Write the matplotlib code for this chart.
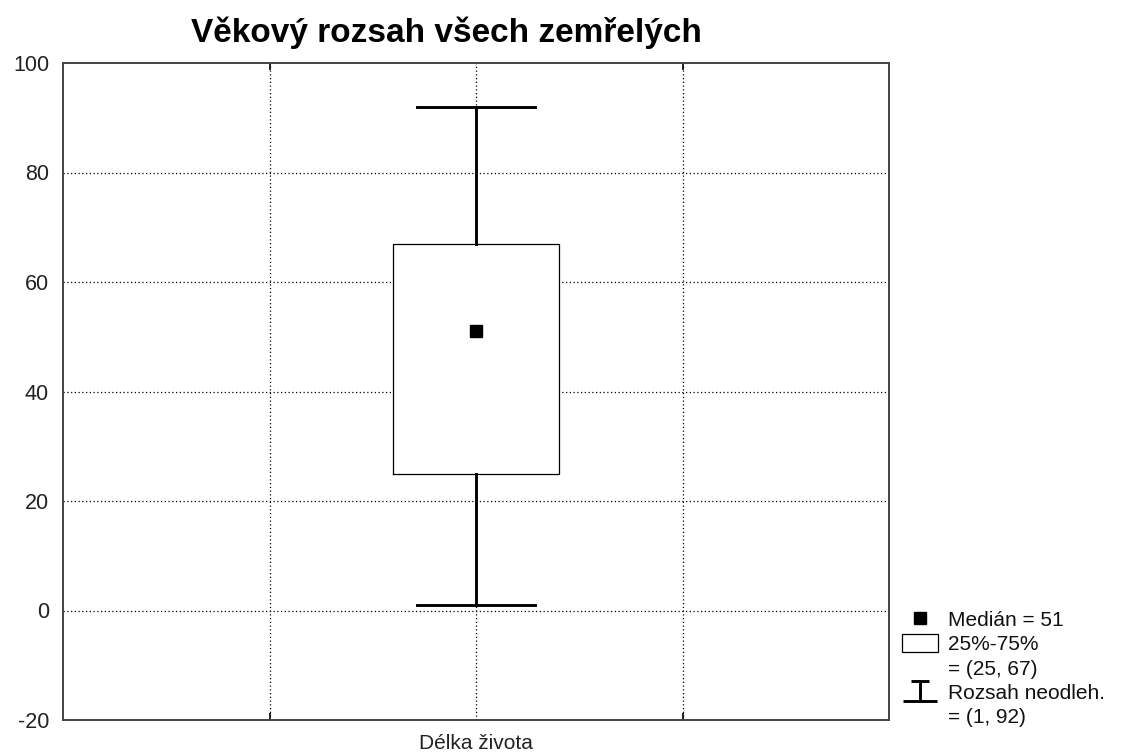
import matplotlib
matplotlib.use("Agg")
import matplotlib.pyplot as plt
from matplotlib.lines import Line2D
from matplotlib.patches import Rectangle
from matplotlib.path import Path

plt.rcParams["font.family"] = ["Liberation Sans", "DejaVu Sans"]
plt.rcParams["axes.unicode_minus"] = False

title = "Věkový rozsah všech zemřelých"
category = "Délka života"
median = 51
q1, q3 = 25, 67
whisker_lo, whisker_hi = 1, 92
y_ticks = [-20, 0, 20, 40, 60, 80, 100]
grid_x = [-1, 0, 1]

fig = plt.figure(figsize=(11.25, 7.53), dpi=100)
ax = fig.add_axes([63 / 1125, 1 - 720 / 753, 826 / 1125, 657 / 753])

stats = [{
    "med": median, "q1": q1, "q3": q3,
    "whislo": whisker_lo, "whishi": whisker_hi,
    "fliers": [], "label": category,
}]
ax.bxp(
    stats, positions=[0], widths=0.8, showfliers=False,
    boxprops=dict(color="black", linewidth=0.9),
    whiskerprops=dict(color="black", linewidth=2.1),
    capprops=dict(color="black", linewidth=2.1),
    capwidths=0.57,
    medianprops=dict(visible=False),
    zorder=3,
)
# white box face over the centre grid line
ax.add_patch(Rectangle((-0.4, q1), 0.8, q3 - q1, facecolor="white",
                       edgecolor="none", zorder=2))
ax.plot([0], [median], marker="s", color="black", markersize=8.5, zorder=4)

ax.set_xlim(-2, 2)
ax.set_ylim(-20, 100)
ax.set_yticks(y_ticks)
ax.set_xticks([0])
ax.set_xticklabels([category])
ax.set_xticks(grid_x, minor=True)
ax.tick_params(axis="x", which="major", length=0, labelsize=15, pad=10,
               labelcolor="#222222")
ax.tick_params(axis="x", which="minor", direction="in", length=5, width=1.2,
               top=True, bottom=True, color="black")
ax.tick_params(axis="y", length=0, labelsize=15.5, pad=10, labelcolor="#222222")

for x in grid_x:
    ax.axvline(x, color="black", linestyle=(0, (1, 2)), linewidth=0.9, zorder=1)
for y in y_ticks[1:-1]:
    ax.axhline(y, color="black", linestyle=(0, (1, 2)), linewidth=0.9, zorder=1)

for s in ax.spines.values():
    s.set_color("#444444")
    s.set_linewidth(1.4)

fig.text(446 / 1125, 1 - 42 / 753, title, ha="center", va="baseline",
         fontsize=24, fontweight="bold")

# legend, one row per text line
ibar = Path([(-1, -0.58), (1, -0.58), (0, -0.58), (0, 0.58),
             (-0.55, 0.58), (0.55, 0.58)],
            [Path.MOVETO, Path.LINETO, Path.MOVETO, Path.LINETO,
             Path.MOVETO, Path.LINETO])
blank = Line2D([], [], linestyle="none")
handles = [
    Line2D([0], [0], marker="s", linestyle="none", color="black", markersize=8.5),
    Rectangle((0, 0), 1, 1, facecolor="white", edgecolor="black", linewidth=0.9),
    blank,
    Line2D([0], [0], marker=ibar, linestyle="none", color="black",
           markersize=24, markeredgewidth=2.1),
    blank,
]
labels = [f"Medián = {median}",
          "25%-75%",
          f"= ({q1}, {q3})",
          "Rozsah neodleh.",
          f"= ({whisker_lo}, {whisker_hi})"]
leg = fig.legend(handles, labels, loc="upper left",
                 bbox_to_anchor=(902 / 1125, 1 - 610 / 753),
                 frameon=False, fontsize=15, handlelength=1.75,
                 handleheight=0.95, handletextpad=0.45, labelspacing=0.2,
                 borderpad=0, borderaxespad=0)
for t in leg.get_texts():
    t.set_color("#111111")

fig.savefig("out.png", dpi=100)
